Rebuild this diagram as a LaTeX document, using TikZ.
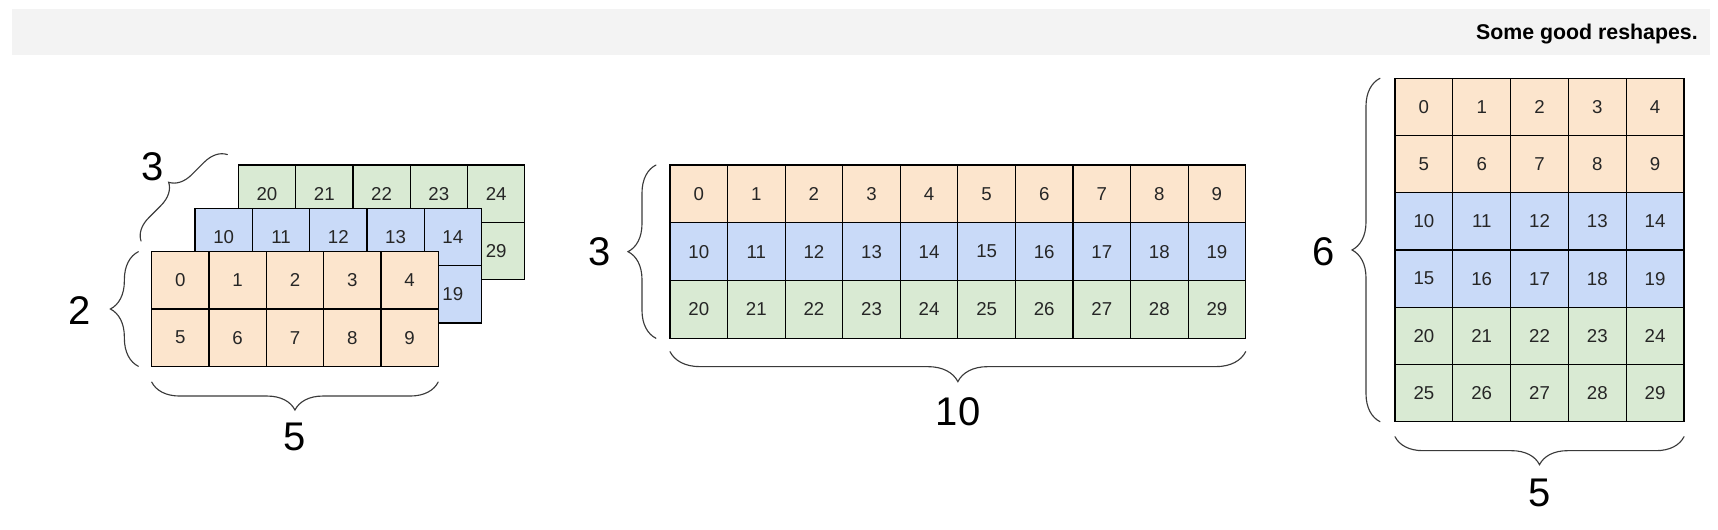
\documentclass[tikz,border=0pt]{standalone}
\usepackage{fontspec}
\setmainfont{Liberation Sans}
\usetikzlibrary{decorations.pathreplacing}
\definecolor{peach}{HTML}{FCE5CD}
\definecolor{sky}{HTML}{C9DAF8}
\definecolor{mint}{HTML}{D9EAD3}
\definecolor{barbg}{HTML}{F3F3F3}
\definecolor{ink}{HTML}{262626}
\definecolor{bracecol}{HTML}{3A3A3A}
\tikzset{
  cell/.style={draw=black, line width=0.95pt, inner sep=0pt, outer sep=0pt,
    font=\fontsize{14}{16}\selectfont, text=ink},
  lcell/.style={cell, minimum width=42.98pt, minimum height=42.98pt},
  mcell/.style={cell, minimum width=43.18pt, minimum height=43.33pt},
  rcell/.style={cell, minimum width=43.35pt, minimum height=42.92pt},
  biglabel/.style={font=\fontsize{30}{32}\selectfont, text=black, inner sep=0pt},
  curly/.style={draw=bracecol, line width=0.85pt, line cap=round, decorate,
    decoration={brace, amplitude=#1}},
  curly/.default=21pt,
  headtext/.style={font=\bfseries\fontsize{16}{18}\selectfont, text=black, inner sep=0pt}
}
\begin{document}
\begin{tikzpicture}[x=0.75pt, y=-0.75pt]
\useasboundingbox (0,0) rectangle (1718,530);
% header bar
\fill[barbg] (12,9) rectangle (1710,55);
\node[headtext, anchor=base east] (title) at (1698,39.3) {Some good reshapes.};

% ---- left stacked 3x2x5 ----
\foreach \r in {0,1} \foreach \c in {0,...,4} {
  \pgfmathtruncatemacro\n{20+5*\r+\c}
  \node[lcell, fill=mint] (G-\r-\c) at ({238.3+(\c+0.5)*57.3},{165+(\r+0.5)*57.3}) {\n};
}
\foreach \r in {0,1} \foreach \c in {0,...,4} {
  \pgfmathtruncatemacro\n{10+5*\r+\c}
  \node[lcell, fill=sky] (B-\r-\c) at ({195+(\c+0.5)*57.3},{208.3+(\r+0.5)*57.3}) {\n};
}
\foreach \r in {0,1} \foreach \c in {0,...,4} {
  \pgfmathtruncatemacro\n{5*\r+\c}
  \node[lcell, fill=peach] (F-\r-\c) at ({151.7+(\c+0.5)*57.3},{251.7+(\r+0.5)*57.3}) {\n};
}
\draw[curly] ([xshift=-10pt]F-1-0.south west) -- ([xshift=-10pt]F-0-0.north west);
\draw[curly=16.5pt] ([shift={(-8pt,8pt)}]F-0-0.north west) -- ([shift={(-8pt,8pt)}]G-0-0.north west);
\draw[curly] ([yshift=-11.8pt]F-1-4.south east) -- ([yshift=-11.8pt]F-1-0.south west);
\node[biglabel] (l2) at (80,311) {2};
\node[biglabel] (l3a) at (152.3,166.7) {3};
\node[biglabel] (l5a) at (295,437) {5};

% ---- middle 3x10 ----
\foreach \r/\col in {0/peach,1/sky,2/mint} \foreach \c in {0,...,9} {
  \pgfmathtruncatemacro\n{10*\r+\c}
  \node[mcell, fill=\col] (M-\r-\c) at ({670+(\c+0.5)*57.57},{165+(\r+0.5)*57.77}) {\n};
}
\draw[curly] ([xshift=-10.5pt]M-2-0.south west) -- ([xshift=-10.5pt]M-0-0.north west);
\draw[curly=22.5pt] ([yshift=-10pt]M-2-9.south east) -- ([yshift=-10pt]M-2-0.south west);
\node[biglabel] (l3b) at (599.3,251.7) {3};
\node[biglabel] (l10) at (958,411.5) {10};

% ---- right 6x5 ----
\foreach \r/\col in {0/peach,1/peach,2/sky,3/sky,4/mint,5/mint} \foreach \c in {0,...,4} {
  \pgfmathtruncatemacro\n{5*\r+\c}
  \node[rcell, fill=\col] (R-\r-\c) at ({1395+(\c+0.5)*57.8},{78.3+(\r+0.5)*57.23}) {\n};
}
\draw[curly] ([xshift=-11.25pt]R-5-0.south west) -- ([xshift=-11.25pt]R-0-0.north west);
\draw[curly] ([yshift=-11.25pt]R-5-4.south east) -- ([yshift=-11.25pt]R-5-0.south west);
\node[biglabel] (l6) at (1323.3,251.7) {6};
\node[biglabel] (l5b) at (1539.5,493.3) {5};
\end{tikzpicture}
\end{document}
